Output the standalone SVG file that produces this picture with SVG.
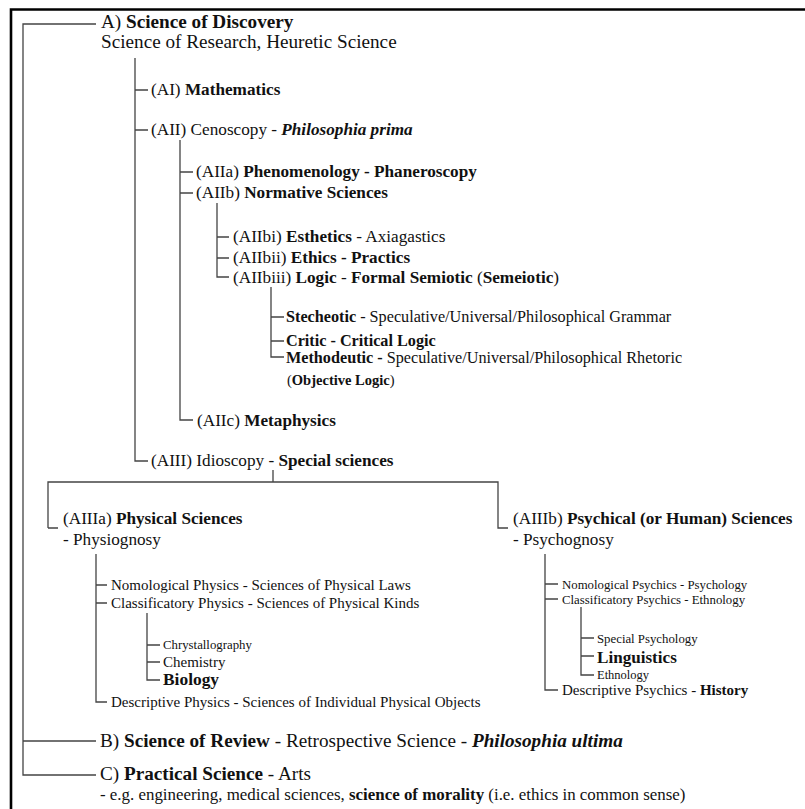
<svg xmlns="http://www.w3.org/2000/svg" width="805" height="809" viewBox="0 0 805 809">
<style>
text{font-family:"Liberation Serif","Times New Roman",serif;fill:#111}
.b{font-weight:bold}
.i{font-style:italic}
.s19{font-size:19.2px}
.s17{font-size:17.2px}
.s16{font-size:16.2px}
.s15{font-size:15px}
.s145{font-size:14.5px}
.s13{font-size:12.8px}
.c{stroke:#444;stroke-width:1.3;fill:none}
.frame{stroke:#000;stroke-width:2.6;fill:none}
</style>
<rect width="805" height="809" fill="#fff"/>
<path class="frame" d="M11,809 V9.5 H805"/>
<g id="connectors">
<path class="c" d="M96,24 H23 V775 H96 M23,741 H96"/>
<path class="c" d="M135,58 V461 H148 M135,90 H148 M135,130 H148"/>
<path class="c" d="M180,140 V420 H193 M180,172 H193 M180,193 H193"/>
<path class="c" d="M217,203 V277 H229 M217,237 H229 M217,258 H229"/>
<path class="c" d="M271,287 V357 H284 M271,317 H284 M271,341 H284"/>
<path class="c" d="M273,470 V482 M48,528 H58 M48,528 V482 H498 V528 H508"/>
<path class="c" d="M96,554 V702 H107 M96,585 H107 M96,603 H107"/>
<path class="c" d="M147,613 V680 H160 M147,645 H160 M147,662 H160"/>
<path class="c" d="M545,554 V690 H558 M545,584 H558 M545,599 H558"/>
<path class="c" d="M581,607 V675 H594 M581,638 H594 M581,656 H594"/>
</g>
<g id="A">
<text class="s19" x="101" y="28">A) <tspan class="b">Science of Discovery</tspan></text>
<text class="s19" x="101" y="48">Science of Research, Heuretic Science</text>
</g>
<g id="AI"><text class="s17" x="151" y="95">(AI) <tspan class="b">Mathematics</tspan></text></g>
<g id="AII"><text class="s17" x="151" y="135">(AII) Cenoscopy - <tspan class="b i">Philosophia prima</tspan></text></g>
<g id="AIIa"><text class="s17" x="196" y="177">(AIIa) <tspan class="b">Phenomenology - Phaneroscopy</tspan></text></g>
<g id="AIIb"><text class="s17" x="196" y="198">(AIIb) <tspan class="b">Normative Sciences</tspan></text></g>
<g id="AIIbi"><text class="s17" x="233" y="242">(AIIbi) <tspan class="b">Esthetics</tspan> - Axiagastics</text></g>
<g id="AIIbii"><text class="s17" x="233" y="263">(AIIbii) <tspan class="b">Ethics - Practics</tspan></text></g>
<g id="AIIbiii"><text class="s17" x="233" y="283">(AIIbiii) <tspan class="b">Logic</tspan> - <tspan class="b">Formal Semiotic</tspan> (<tspan class="b">Semeiotic</tspan>)</text></g>
<g id="Stecheotic"><text class="s16" x="286" y="322"><tspan class="b">Stecheotic</tspan> - Speculative/Universal/Philosophical Grammar</text></g>
<g id="Critic"><text class="s16 b" x="286" y="346">Critic - Critical Logic</text></g>
<g id="Methodeutic">
<text class="s16" x="286" y="363"><tspan class="b">Methodeutic -</tspan> Speculative/Universal/Philosophical Rhetoric</text>
<text class="s145" x="287" y="385">(<tspan class="b">Objective Logic</tspan>)</text>
</g>
<g id="AIIc"><text class="s17" x="197" y="426">(AIIc) <tspan class="b">Metaphysics</tspan></text></g>
<g id="AIII"><text class="s17" x="151" y="466">(AIII) Idioscopy - <tspan class="b">Special sciences</tspan></text></g>
<g id="AIIIa">
<text class="s17" x="63" y="524">(AIIIa) <tspan class="b">Physical Sciences</tspan></text>
<text class="s17" x="63" y="545">- Physiognosy</text>
</g>
<g id="NomPhys"><text class="s15" x="111" y="590">Nomological Physics - Sciences of Physical Laws</text></g>
<g id="ClassPhys"><text class="s15" x="111" y="608">Classificatory Physics - Sciences of Physical Kinds</text></g>
<g id="Chrystallography"><text class="s13" x="163" y="649">Chrystallography</text></g>
<g id="Chemistry"><text class="s15" x="163" y="667">Chemistry</text></g>
<g id="Biology"><text class="b" style="font-size:17.4px" x="163" y="685">Biology</text></g>
<g id="DescPhys"><text class="s15" x="111" y="707">Descriptive Physics - Sciences of Individual Physical Objects</text></g>
<g id="AIIIb">
<text class="s17" x="513" y="524">(AIIIb) <tspan class="b">Psychical (or Human) Sciences</tspan></text>
<text class="s17" x="513" y="545">- Psychognosy</text>
</g>
<g id="NomPsych"><text class="s13" x="562" y="589">Nomological Psychics - Psychology</text></g>
<g id="ClassPsych"><text class="s13" x="562" y="604">Classificatory Psychics - Ethnology</text></g>
<g id="SpecialPsych"><text class="s13" x="597" y="643">Special Psychology</text></g>
<g id="Linguistics"><text class="b" style="font-size:17.1px" x="597" y="663">Linguistics</text></g>
<g id="Ethnology"><text style="font-size:12.5px" x="597" y="679">Ethnology</text></g>
<g id="DescPsych"><text class="s15" x="562" y="695">Descriptive Psychics - <tspan class="b">History</tspan></text></g>
<g id="B"><text class="s19" x="100" y="747">B) <tspan class="b">Science of Review</tspan> - Retrospective Science - <tspan class="b i">Philosophia ultima</tspan></text></g>
<g id="C">
<text class="s19" x="100" y="780">C) <tspan class="b">Practical Science</tspan> - Arts</text>
<text style="font-size:16.9px" x="100" y="800">- e.g. engineering, medical sciences, <tspan class="b">science of morality</tspan> (i.e. ethics in common sense)</text>
</g>
</svg>
